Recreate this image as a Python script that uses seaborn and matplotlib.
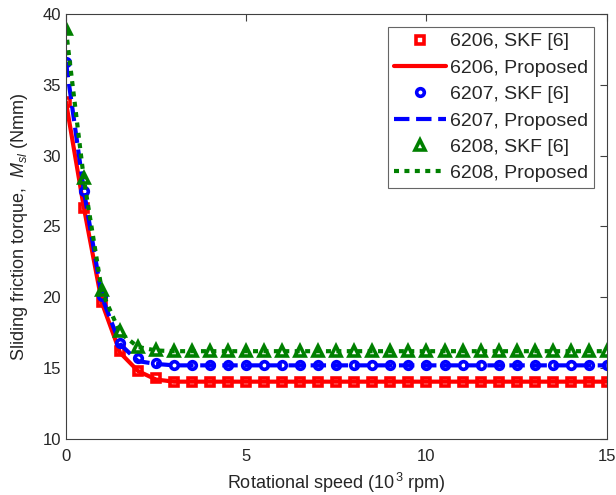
import matplotlib
matplotlib.use('Agg')
import matplotlib.pyplot as plt
import seaborn as sns

# speed in 10^3 rpm
speed = [0.0, 0.5, 1.0, 1.5, 2.0, 2.5, 3.0, 3.5, 4.0, 4.5, 5.0, 5.5, 6.0, 6.5, 7.0, 7.5,
         8.0, 8.5, 9.0, 9.5, 10.0, 10.5, 11.0, 11.5, 12.0, 12.5, 13.0, 13.5, 14.0, 14.5, 15.0]

skf_6206 = [33.8, 26.3, 19.7, 16.2, 14.8, 14.3] + [14.05] * 25
prop_6206 = [33.8, 26.3, 19.6, 16.1, 14.8, 14.2] + [14.05] * 25
skf_6207 = [36.6, 27.5, 20.1, 16.8, 15.7, 15.35] + [15.25] * 25
prop_6207 = [36.6, 27.5, 20.0, 16.7, 15.5, 15.3] + [15.2] * 25
skf_6208 = [38.9, 28.4, 20.5, 17.6, 16.5, 16.3] + [16.2] * 25
prop_6208 = [38.9, 28.3, 20.4, 17.5, 16.5, 16.25] + [16.2] * 25

sns.set_style('white')
plt.rcParams['font.family'] = ['Liberation Sans', 'DejaVu Sans']
plt.rcParams['mathtext.fontset'] = 'custom'
plt.rcParams['mathtext.rm'] = 'Liberation Sans'
plt.rcParams['mathtext.it'] = 'Liberation Sans:italic'

fig = plt.figure(figsize=(6.16, 4.95), dpi=100)
ax = fig.add_axes([0.107, 0.113, 0.878, 0.859])

series = [
    ('6206', skf_6206, prop_6206, 'red', 's', '-'),
    ('6207', skf_6207, prop_6207, 'blue', 'o', '--'),
    ('6208', skf_6208, prop_6208, 'green', '^', ':'),
]

for name, skf, prop, col, mk, ls in series:
    sns.lineplot(x=speed, y=skf, ax=ax, color=col, linestyle='none', marker=mk,
                 markersize=6.5 if mk == '^' else 5.5, markerfacecolor='none',
                 markeredgecolor=col, markeredgewidth=2.6, label=name + ', SKF [6]')
    kw = dict(dashes=(1.2, 1.3)) if ls == ':' else dict(linestyle=ls)
    sns.lineplot(x=speed, y=prop, ax=ax, color=col, linewidth=3,
                 label=name + ', Proposed', **kw)

ax.set_xlim(0, 15)
ax.set_ylim(10, 40)
ax.set_xticks([0, 5, 10, 15])
ax.set_yticks([10, 15, 20, 25, 30, 35, 40])
ax.tick_params(direction='in', length=5, width=0.8, colors='#404040', labelsize=12,
               top=True, right=True, labelcolor='#262626')
ax.tick_params(axis='x', pad=7)
for s in ax.spines.values():
    s.set_color('#404040')
    s.set_linewidth(0.8)

ax.set_xlabel('Rotational speed (10$^{\\,3}$ rpm)', fontsize=13, color='#262626', labelpad=5)
ax.set_ylabel('Sliding friction torque,  $M_{sl}$ (Nmm)', fontsize=13, color='#262626', labelpad=9)

leg = ax.legend(loc='upper right', bbox_to_anchor=(594 / 616, 1 - 27 / 495),
                bbox_transform=fig.transFigure, fontsize=14,
                handlelength=2.7, handletextpad=0.2, borderpad=0.3, labelspacing=0.45,
                frameon=True, fancybox=False, edgecolor='#404040', borderaxespad=0.0)
leg.get_frame().set_linewidth(0.8)

fig.savefig('out.png', dpi=100)
